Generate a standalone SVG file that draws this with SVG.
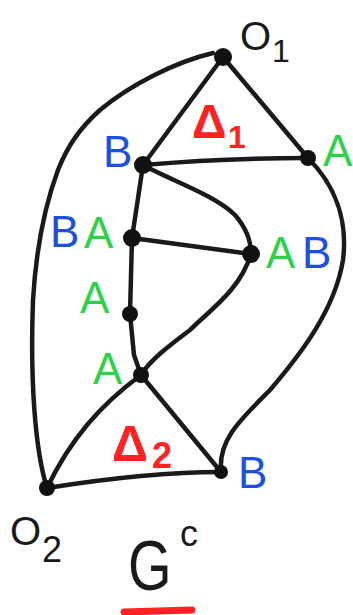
<svg xmlns="http://www.w3.org/2000/svg" width="353" height="615" viewBox="0 0 353 615">
<style>
.e{fill:none;stroke:#1a1a1a;stroke-width:4.5;stroke-linecap:round;stroke-linejoin:round}
.n{fill:#111}
.t{font-family:"Liberation Sans",Arial,sans-serif}
.k{fill:#1a1a1a}
.r{fill:#ff2222}
.g{fill:#2dd24a}
.b{fill:#1f4fe0}
</style>
<rect width="353" height="615" fill="#fff"/>
<g id="connectors">
<path class="e" d="M223,57 L143,165"/>
<path class="e" d="M223,57 L308,158"/>
<path class="e" d="M213,53 C175,62 130,85 100,110 C80,128 68,145 58,170 C45,205 36,250 33,300 C30,380 35,450 47,488"/>
<path class="e" d="M143,165 C200,160 260,158 308,158"/>
<path class="e" d="M143,165 L132,238"/>
<path class="e" d="M143,165 C170,180 215,195 235,215 C248,230 251,245 251,254"/>
<path class="e" d="M132,238 L251,254"/>
<path class="e" d="M132,238 L130,314"/>
<path class="e" d="M130,314 L134,355 L141,375"/>
<path class="e" d="M251,254 C240,290 210,310 190,330 C170,345 150,360 141,375"/>
<path class="e" d="M308,158 C335,185 348,220 343,260 C335,310 300,355 270,390 C240,420 218,440 221,472"/>
<path class="e" d="M141,375 C100,405 70,440 47,488"/>
<path class="e" d="M141,375 L221,472"/>
<path class="e" d="M47,488 C110,478 170,472 221,472"/>
</g>
<g id="O1"><circle class="n" cx="223" cy="57" r="9"/><text class="t k" x="240" y="50" font-size="40">O</text><text class="t k" x="272" y="62" font-size="32">1</text></g>
<g id="B1"><circle class="n" cx="143" cy="165" r="9"/><text class="t b" x="103" y="167" font-size="44">B</text></g>
<g id="A1"><circle class="n" cx="308" cy="158" r="8"/><text class="t g" x="323" y="166" font-size="44">A</text></g>
<g id="BA"><circle class="n" cx="132" cy="238" r="9"/><text class="t b" x="50" y="247" font-size="44">B</text><text class="t g" x="84" y="248" font-size="44">A</text></g>
<g id="AB"><circle class="n" cx="251" cy="254" r="9"/><text class="t g" x="266" y="268" font-size="44">A</text><text class="t b" x="302" y="268" font-size="44">B</text></g>
<g id="A2"><circle class="n" cx="130" cy="314" r="8"/><text class="t g" x="80" y="313" font-size="44">A</text></g>
<g id="A3"><circle class="n" cx="141" cy="375" r="8"/><text class="t g" x="93" y="384" font-size="44">A</text></g>
<g id="B2"><circle class="n" cx="221" cy="472" r="7"/><text class="t b" x="238" y="488" font-size="44">B</text></g>
<g id="O2"><circle class="n" cx="47" cy="488" r="8"/><text class="t k" x="10" y="545" font-size="40">O</text><text class="t k" x="42" y="562" font-size="36">2</text></g>
<g id="D1"><text class="t r" x="192" y="138" font-size="48" font-weight="bold">Δ</text><text class="t r" x="228" y="148" font-size="32" font-weight="bold">1</text></g>
<g id="D2"><text class="t r" x="112" y="461" font-size="50" font-weight="bold">Δ</text><text class="t r" x="152" y="468" font-size="36" font-weight="bold">2</text></g>
<g id="Gc"><text class="t k" transform="translate(128,590) scale(0.8,1)" font-size="70">G</text><text class="t k" x="180" y="546" font-size="36">c</text>
<path d="M124,612 L192,610" stroke="#ff2222" stroke-width="7" stroke-linecap="round" fill="none"/></g>
</svg>
